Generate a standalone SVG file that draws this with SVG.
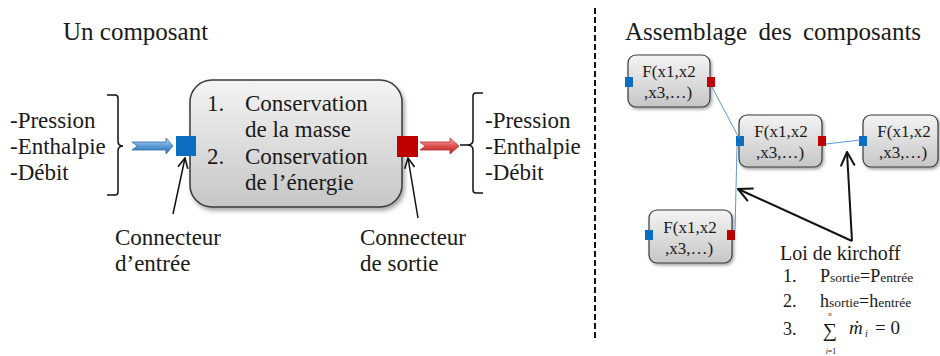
<svg xmlns="http://www.w3.org/2000/svg" width="940" height="356" viewBox="0 0 940 356" font-family="'Liberation Serif', 'DejaVu Serif', serif">
<defs>
<style>
text, tspan { font-family: "Liberation Serif", "DejaVu Serif", serif; fill: #1a1a1a; }
.title { font-size: 25px; }
.lbl { font-size: 23px; }
.nt { font-size: 17px; text-anchor: middle; }
.k { font-size: 20px; }
.kn { font-size: 18px; }
.ks { font-size: 13.5px; }
.box { fill: url(#gGray); stroke: #3a3a3a; stroke-width: 1.5; filter: url(#sh); }
.sbox { fill: url(#gGray); stroke: #3a3a3a; stroke-width: 1.2; filter: url(#sh2); }
.blue { fill: #0a6fc2; }
.red { fill: #c00000; }
.wire { stroke: #5b9bd5; stroke-width: 1; fill: none; }
.blk { stroke: #111; fill: none; }
</style>
<linearGradient id="gGray" x1="0" y1="0" x2="0" y2="1">
<stop offset="0" stop-color="#f4f4f4"/>
<stop offset="1" stop-color="#c6c6c6"/>
</linearGradient>
<linearGradient id="gBlue" x1="0" y1="0" x2="0" y2="1">
<stop offset="0" stop-color="#bcd8f2"/>
<stop offset="0.5" stop-color="#5b9bd5"/>
<stop offset="1" stop-color="#2e6fb0"/>
</linearGradient>
<linearGradient id="gRed" x1="0" y1="0" x2="0" y2="1">
<stop offset="0" stop-color="#f4b4b4"/>
<stop offset="0.5" stop-color="#e05050"/>
<stop offset="1" stop-color="#b02020"/>
</linearGradient>
<filter id="sh" x="-10%" y="-10%" width="130%" height="130%">
<feDropShadow dx="2" dy="3" stdDeviation="2" flood-color="#000" flood-opacity="0.35"/>
</filter>
<filter id="sh2" x="-10%" y="-10%" width="130%" height="130%">
<feDropShadow dx="1.5" dy="2" stdDeviation="1.5" flood-color="#000" flood-opacity="0.35"/>
</filter>
<marker id="ah" viewBox="0 0 12 12" refX="11" refY="6" markerWidth="12" markerHeight="12" markerUnits="userSpaceOnUse" orient="auto">
<path d="M1,1 L11,6 L1,11" fill="none" stroke="#111" stroke-width="1.6"/>
</marker>
<marker id="ah2" viewBox="0 0 16 16" refX="15" refY="8" markerWidth="16" markerHeight="16" markerUnits="userSpaceOnUse" orient="auto">
<path d="M1,1 L15,8 L1,15" fill="none" stroke="#111" stroke-width="2"/>
</marker>
</defs>

<rect width="940" height="356" fill="#ffffff"/>

<text class="title" x="63" y="40">Un composant</text>
<text class="title" x="625" y="40" word-spacing="5">Assemblage des composants</text>

<line x1="595" y1="8" x2="595" y2="338" stroke="#111" stroke-width="2" stroke-dasharray="6 3"/>

<g id="inputs">
<text class="lbl" x="10" y="128">-Pression</text>
<text class="lbl" x="10" y="154">-Enthalpie</text>
<text class="lbl" x="10" y="180">-Débit</text>
<path class="blk" stroke-width="1.5" d="M107,95 L115,95 Q118,95 118,98 L118,141 Q118,146 123,146 Q118,146 118,151 L118,192 Q118,195 115,195 L107,195"/>
</g>

<g id="outputs">
<text class="lbl" x="485" y="128">-Pression</text>
<text class="lbl" x="485" y="154">-Enthalpie</text>
<text class="lbl" x="485" y="180">-Débit</text>
<path class="blk" stroke-width="1.5" d="M483,93 L476,93 Q473,93 473,96 L473,140 Q473,145 467,145 L460,145 M467,145 Q473,145 473,150 L473,190 Q473,193 476,193 L483,193"/>
</g>

<g id="component">
<rect class="box" x="190" y="80" width="212" height="127" rx="22" ry="22"/>
<text class="lbl" x="207" y="111">1.</text>
<text class="lbl" x="245" y="111">Conservation</text>
<text class="lbl" x="245" y="137">de la masse</text>
<text class="lbl" x="207" y="164">2.</text>
<text class="lbl" x="245" y="164">Conservation</text>
<text class="lbl" x="245" y="190">de l’énergie</text>
</g>

<g id="connecteur-entree">
<rect class="blue" x="176" y="136" width="20" height="20"/>
<text class="lbl" x="115" y="245">Connecteur</text>
<text class="lbl" x="115" y="271">d’entrée</text>
</g>

<g id="connecteur-sortie">
<rect class="red" x="397" y="136" width="21" height="21"/>
<text class="lbl" x="360" y="245">Connecteur</text>
<text class="lbl" x="360" y="271">de sortie</text>
</g>

<g id="nodeA">
<rect class="sbox" x="628" y="55" width="82" height="52" rx="8" ry="8"/>
<rect class="blue" x="625" y="77" width="8" height="10"/>
<rect class="red" x="707" y="77" width="8" height="10"/>
<text class="nt" x="669" y="77">F(x1,x2</text>
<text class="nt" x="668" y="98">,x3,…)</text>
</g>

<g id="nodeB">
<rect class="sbox" x="739" y="115" width="83" height="52" rx="8" ry="8"/>
<rect class="blue" x="736" y="136" width="8" height="10"/>
<rect class="red" x="818" y="136" width="8" height="10"/>
<text class="nt" x="781" y="137">F(x1,x2</text>
<text class="nt" x="780" y="158">,x3,…)</text>
</g>

<g id="nodeC">
<rect class="sbox" x="863" y="115" width="75" height="52" rx="8" ry="8"/>
<rect class="blue" x="859" y="136" width="8" height="10"/>
<text class="nt" x="904" y="137">F(x1,x2</text>
<text class="nt" x="903" y="158">,x3,…)</text>
</g>

<g id="nodeD">
<rect class="sbox" x="649" y="210" width="83" height="53" rx="8" ry="8"/>
<rect class="blue" x="645" y="230" width="8" height="10"/>
<rect class="red" x="727" y="230" width="8" height="10"/>
<text class="nt" x="690" y="233">F(x1,x2</text>
<text class="nt" x="689" y="254">,x3,…)</text>
</g>

<g id="kirchhoff">
<text class="k" x="780" y="260">Loi de kirchoff</text>
<text class="kn" x="783" y="282">1.</text>
<text x="820" y="282"><tspan class="kn">P</tspan><tspan class="ks">sortie</tspan><tspan class="kn">=P</tspan><tspan class="ks">entrée</tspan></text>
<text class="kn" x="783" y="307">2.</text>
<text x="820" y="307"><tspan class="kn">h</tspan><tspan class="ks">sortie</tspan><tspan class="kn">=h</tspan><tspan class="ks">entrée</tspan></text>
<text class="kn" x="783" y="335">3.</text>
<text x="830" y="337" style="font-size:20px" text-anchor="middle">∑</text>
<text x="830" y="316" style="font-size:7px;font-style:italic" text-anchor="middle">n</text>
<text x="831" y="354" style="font-size:8px" text-anchor="middle"><tspan font-style="italic">i</tspan>=1</text>
<text x="849" y="334" style="font-size:19px;font-style:italic">ṁ</text>
<text x="865" y="337" style="font-size:10px;font-style:italic">i</text>
<text x="875" y="334" style="font-size:19px">= 0</text>
</g>

<g id="connectors">
<path d="M132,142 L166,142 L166,138 L173,146 L166,154 L166,150 L132,150 L137,146 Z" fill="url(#gBlue)" stroke="#2e6fb0" stroke-width="0.8"/>
<path d="M420,142 L450,142 L450,138 L459,146 L450,154 L450,150 L420,150 L425,146 Z" fill="url(#gRed)" stroke="#b83030" stroke-width="0.8"/>
<line class="blk" stroke-width="1.5" x1="173" y1="214" x2="185" y2="158" marker-end="url(#ah)"/>
<line class="blk" stroke-width="1.5" x1="418" y1="218" x2="408" y2="158" marker-end="url(#ah)"/>
<line class="wire" x1="712" y1="87" x2="739" y2="138"/>
<line class="wire" x1="737" y1="146" x2="735" y2="231"/>
<line class="wire" x1="826" y1="144" x2="860" y2="140"/>
<line class="blk" stroke-width="2" x1="852" y1="241" x2="738" y2="189" marker-end="url(#ah2)"/>
<line class="blk" stroke-width="2" x1="852" y1="241" x2="847" y2="152" marker-end="url(#ah2)"/>
</g>
</svg>
